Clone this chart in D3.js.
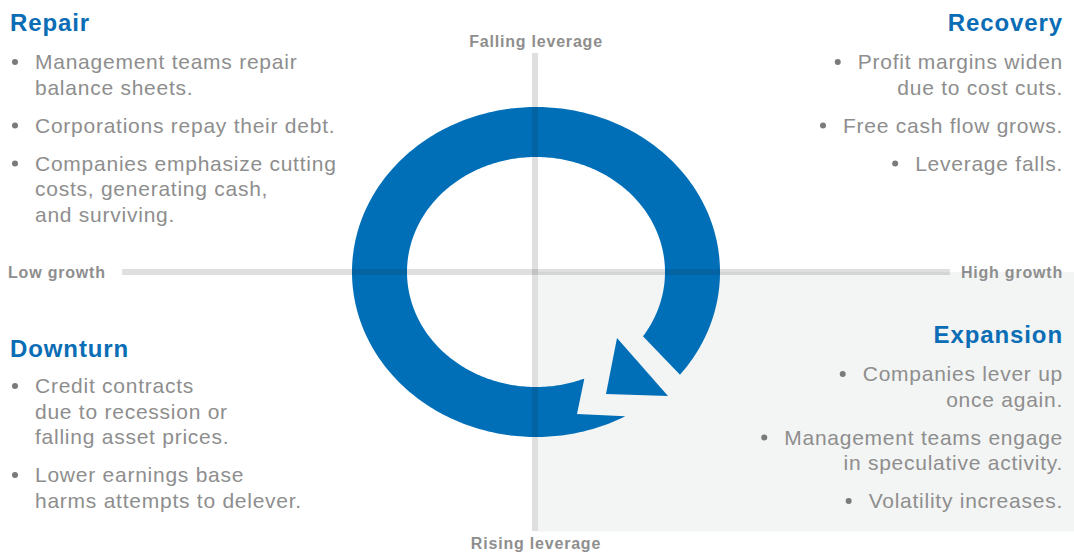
<!DOCTYPE html>
<html>
<head>
<meta charset="utf-8">
<script src="https://cdn.jsdelivr.net/npm/d3@7"></script>
<style>
  html, body { margin: 0; padding: 0; background: #fff; }
  svg { display: block; font-family: "Liberation Sans", Arial, sans-serif; }
</style>
</head>
<body>
<div id="chart"></div>
<script>
// phase names and their bullet points (each bullet is a list of wrapped lines)
const phases = ["Repair", "Recovery", "Downturn", "Expansion"];
const repairBullets = [
    ["Management teams repair", "balance sheets."],
    ["Corporations repay their debt."],
    ["Companies emphasize cutting", "costs, generating cash,", "and surviving."]
];
const recoveryBullets = [
    ["Profit margins widen", "due to cost cuts."],
    ["Free cash flow grows."],
    ["Leverage falls."]
];
const downturnBullets = [
    ["Credit contracts", "due to recession or", "falling asset prices."],
    ["Lower earnings base", "harms attempts to delever."]
];
const expansionBullets = [
    ["Companies lever up", "once again."],
    ["Management teams engage", "in speculative activity."],
    ["Volatility increases."]
];
const axisLabels = {
    top: "Falling leverage",
    bottom: "Rising leverage",
    left: "Low growth",
    right: "High growth"
};

const width = 1074, height = 552;
const blue = "#0a6db5", grey = "#8e8e8e";

// diagram coordinates: growth on x, leverage on y, both -1..1
const x = d3.scaleLinear().domain([-1, 1]).range([0, 1072]);
const y = d3.scaleLinear().domain([-1, 1]).range([12, 532]);
const cx = x(0), cy = y(0.0);

const svg = d3.select("#chart").append("svg")
    .attr("width", width)
    .attr("height", height);

// shaded expansion quadrant
svg.append("rect")
    .attr("x", cx + 2)
    .attr("y", cy)
    .attr("width", width - cx - 2)
    .attr("height", y(0.998) - cy)
    .attr("fill", "#f3f4f4");

// ring, built from two ellipses sampled along the angle
const outer = { rx: 184, ry: 165 }, inner = { rx: 129, ry: 115 };
const deg = d => d * Math.PI / 180;
const onEllipse = (e, a) => [cx + e.rx * Math.cos(deg(a)), cy + e.ry * Math.sin(deg(a))];
const ringStart = { outer: 61, inner: 68 }, ringEnd = { outer: 398.5, inner: 394 };

let ringPts = [];
for (let a = ringStart.outer; a <= ringEnd.outer; a += 1) ringPts.push(onEllipse(outer, a));
ringPts.push(onEllipse(outer, ringEnd.outer));
for (let a = ringEnd.inner; a >= ringStart.inner; a -= 1) ringPts.push(onEllipse(inner, a));
ringPts.push(onEllipse(inner, ringStart.inner));
ringPts.push([cx + 41, cy + 142]); // notch corner at the tail

svg.append("path")
    .attr("d", d3.line()(ringPts) + "Z")
    .attr("fill", "#006fb8");

// arrow head
const head = [[cx + 81, cy + 66], [cx + 132, cy + 124], [cx + 70, cy + 122]];
svg.append("path")
    .attr("d", d3.line()(head) + "Z")
    .attr("fill", "#006fb8");

// axes
svg.append("line")
    .attr("x1", cx - 1).attr("x2", cx - 1)
    .attr("y1", 53).attr("y2", 531)
    .attr("stroke", "#1a1a1a").attr("stroke-opacity", 0.14).attr("stroke-width", 6);
svg.append("line")
    .attr("x1", 122).attr("x2", 950)
    .attr("y1", cy).attr("y2", cy)
    .attr("stroke", "#1a1a1a").attr("stroke-opacity", 0.14).attr("stroke-width", 6);

const axisText = (txt, tx, ty, anchor) => svg.append("text")
    .attr("x", tx).attr("y", ty)
    .attr("text-anchor", anchor)
    .attr("font-size", 16)
    .attr("font-weight", "bold")
    .attr("letter-spacing", 0.8)
    .attr("fill", "#8e8e8e")
    .text(txt);
axisText(axisLabels.top, cx, 47, "middle");
axisText(axisLabels.bottom, cx, 549, "middle");
axisText(axisLabels.left, 8, 278, "start");
axisText(axisLabels.right, 1063, 278, "end");

// quadrant text blocks
const blocks = [
    { title: phases[0], bullets: repairBullets, x: 10, align: "start", titleY: 31, firstY: 69 },
    { title: phases[1], bullets: recoveryBullets, x: 1063, align: "end", titleY: 31, firstY: 69 },
    { title: phases[2], bullets: downturnBullets, x: 10, align: "start", titleY: 357, firstY: 393 },
    { title: phases[3], bullets: expansionBullets, x: 1063, align: "end", titleY: 343, firstY: 381 }
];
const lineGap = 25.5, bulletGap = 12.5;

blocks.forEach(b => {
    const g = svg.append("g");
    g.append("text")
        .attr("x", b.x).attr("y", b.titleY)
        .attr("text-anchor", b.align)
        .attr("font-size", 24)
        .attr("font-weight", "bold")
        .attr("letter-spacing", 0.9)
        .attr("fill", blue)
        .text(b.title);

    let ty = b.firstY;
    b.bullets.forEach(lines => {
        let firstLine = null;
        lines.forEach((ln, i) => {
            const t = g.append("text")
                .attr("x", b.align === "start" ? b.x + 25 : b.x)
                .attr("y", ty)
                .attr("text-anchor", b.align)
                .attr("font-size", 21)
                .attr("letter-spacing", 0.75)
                .attr("fill", grey)
                .text(ln);
            if (i === 0) firstLine = t;
            ty += lineGap;
        });
        const bx = b.align === "start"
            ? b.x + 5
            : b.x - firstLine.node().getComputedTextLength() - 20;
        g.append("circle")
            .attr("cx", bx)
            .attr("cy", +firstLine.attr("y") - 7)
            .attr("r", 3)
            .attr("fill", "#7a7a7a");
        ty += bulletGap;
    });
});
</script>
</body>
</html>
